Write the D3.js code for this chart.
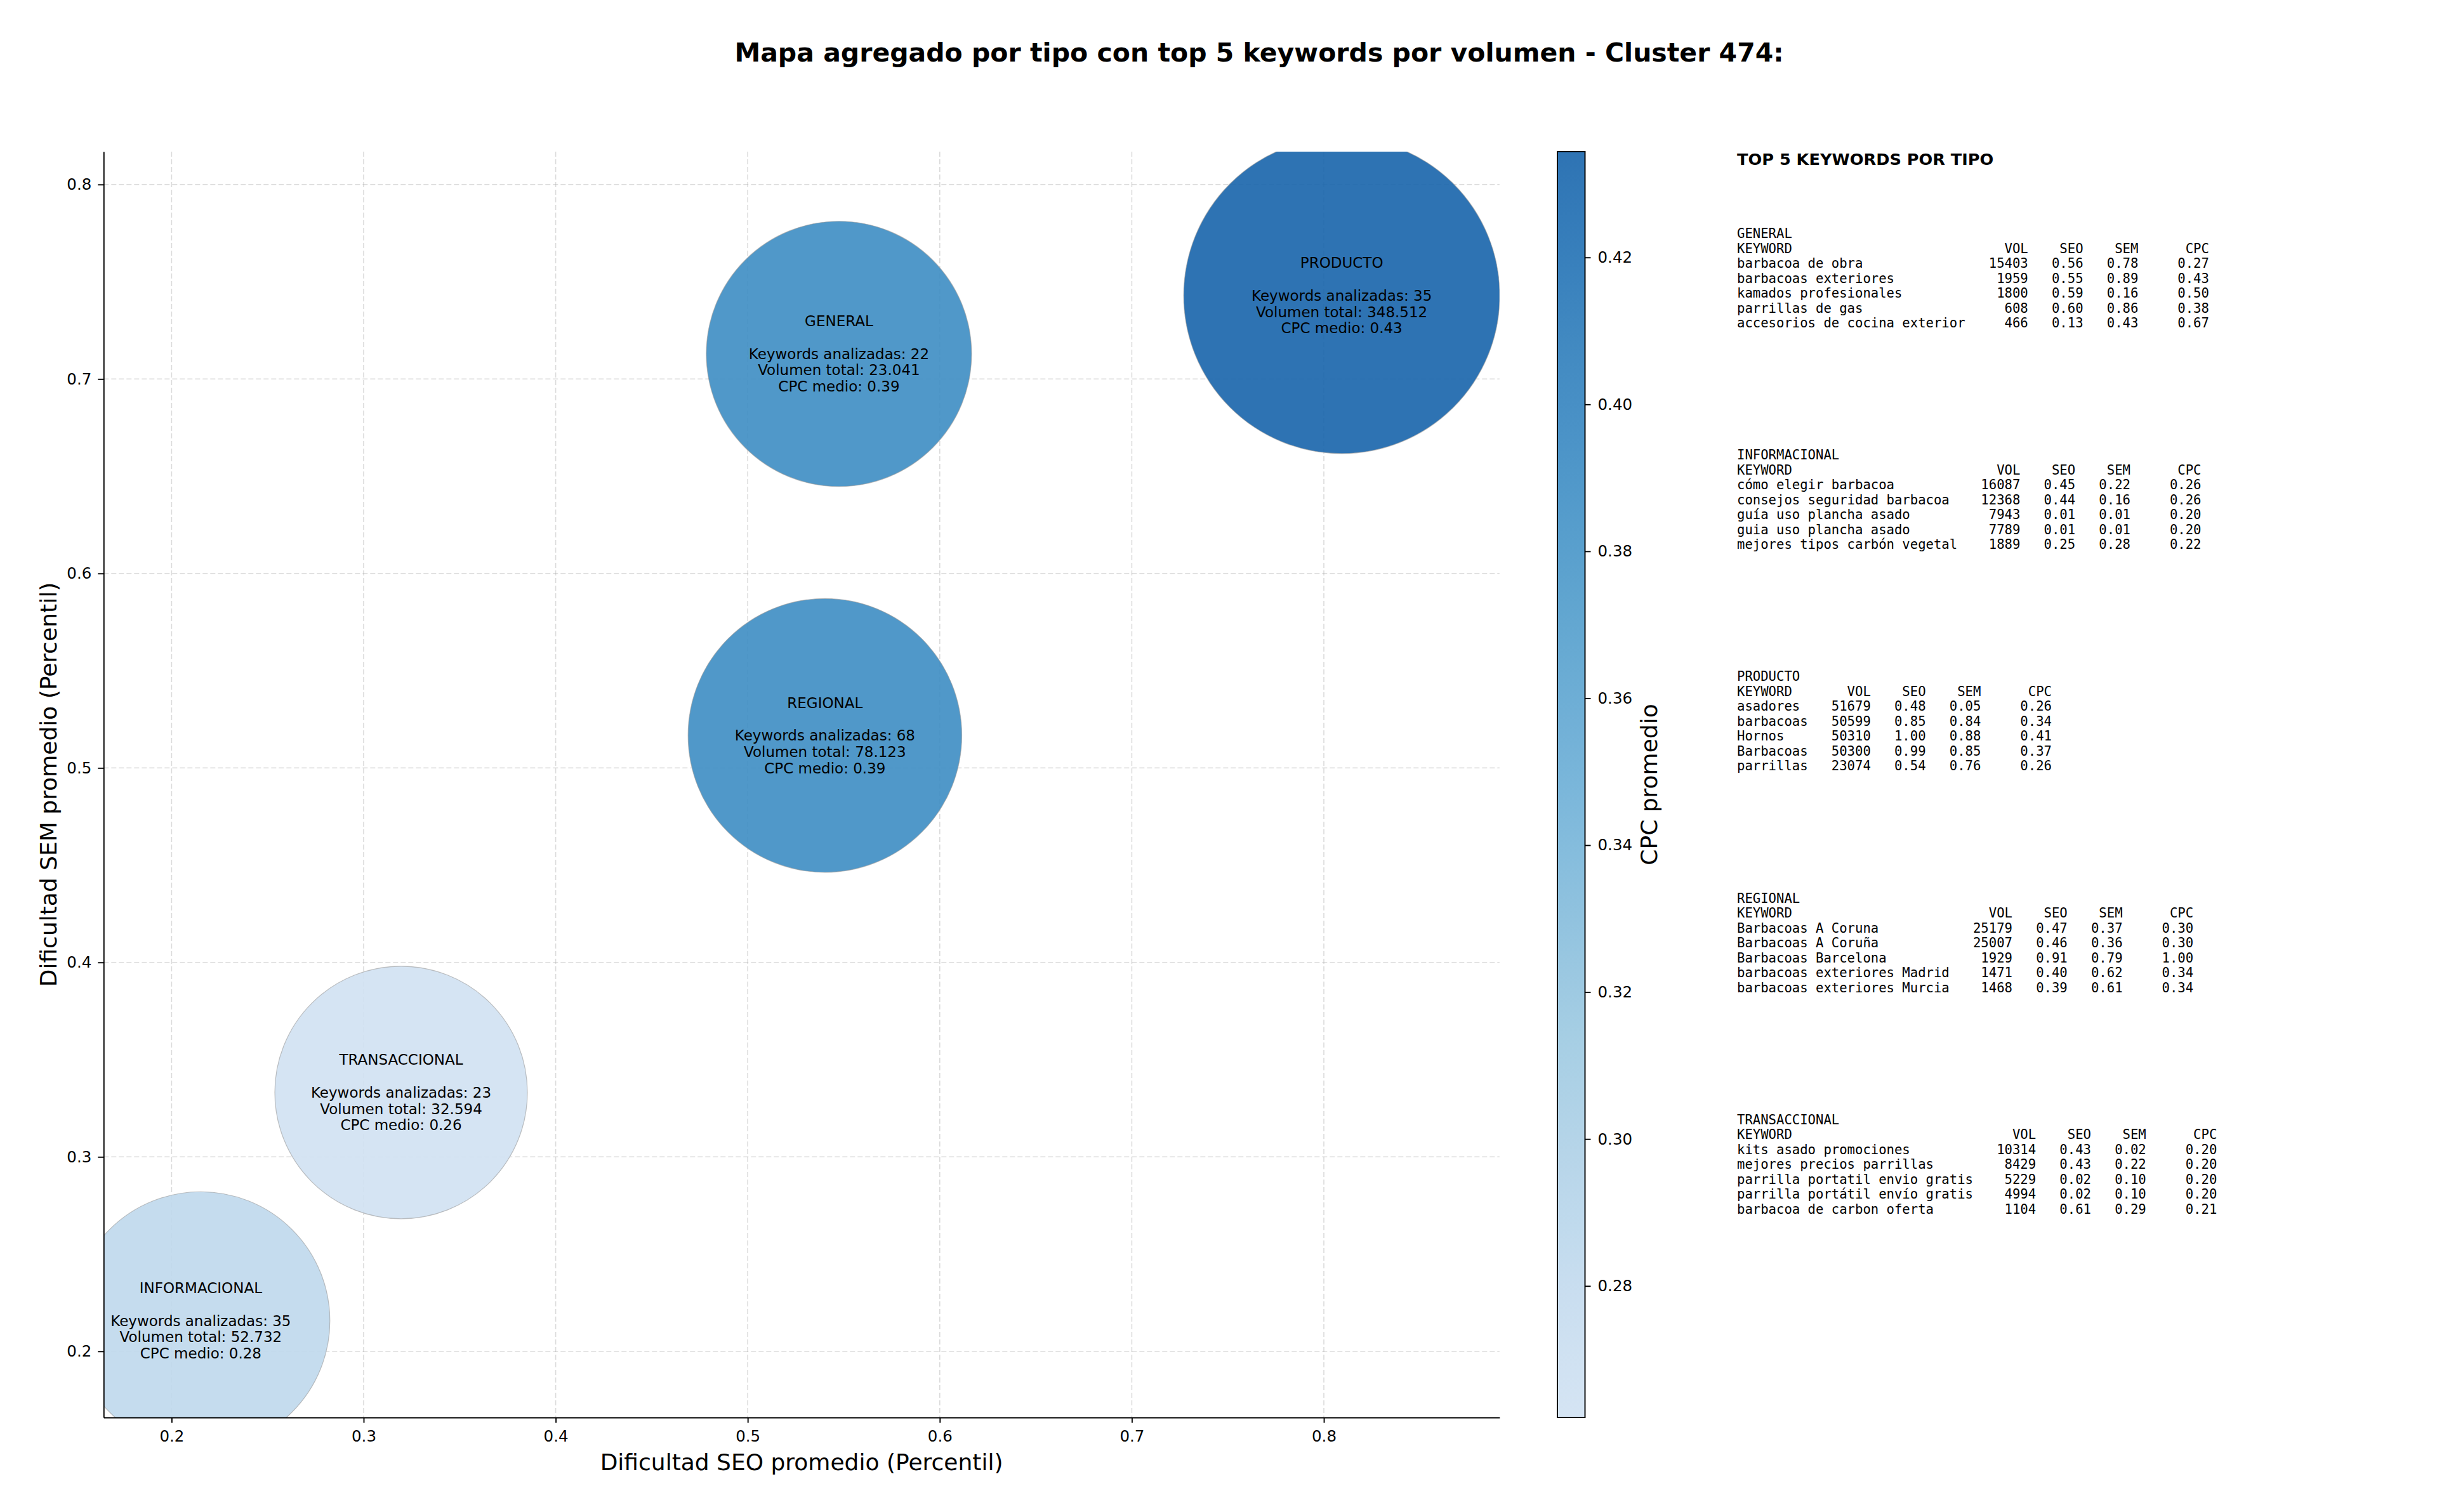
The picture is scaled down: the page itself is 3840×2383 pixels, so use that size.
<!DOCTYPE html>
<html>
<head>
<meta charset="utf-8">
<script src="https://cdn.jsdelivr.net/npm/d3@7"></script>
<style>
  html, body { margin: 0; padding: 0; background: #ffffff; }
  svg { display: block; }
</style>
</head>
<body>
<script>
// ---------------- DATA ----------------
const tipos        = ["GENERAL", "INFORMACIONAL", "PRODUCTO", "REGIONAL", "TRANSACCIONAL"];
const seoPromedio  = [0.5475, 0.2152, 0.8093, 0.5402, 0.3195];
const semPromedio  = [0.7129, 0.2157, 0.7429, 0.5167, 0.3331];
const numKeywords  = [22, 35, 35, 68, 23];
const volumenTotal = [23041, 52732, 348512, 78123, 32594];
const cpcMedio     = [0.39, 0.283, 0.4344, 0.39, 0.2621];

const xTicks  = [0.2, 0.3, 0.4, 0.5, 0.6, 0.7, 0.8];
const yTicks  = [0.2, 0.3, 0.4, 0.5, 0.6, 0.7, 0.8];
const cbTicks = [0.28, 0.30, 0.32, 0.34, 0.36, 0.38, 0.40, 0.42];

// top 5 keywords per type: [keyword, volumen, seo, sem, cpc]
const topGeneral = [
  ["barbacoa de obra", 15403, 0.56, 0.78, 0.27],
  ["barbacoas exteriores", 1959, 0.55, 0.89, 0.43],
  ["kamados profesionales", 1800, 0.59, 0.16, 0.50],
  ["parrillas de gas", 608, 0.60, 0.86, 0.38],
  ["accesorios de cocina exterior", 466, 0.13, 0.43, 0.67]
];
const topInformacional = [
  ["cómo elegir barbacoa", 16087, 0.45, 0.22, 0.26],
  ["consejos seguridad barbacoa", 12368, 0.44, 0.16, 0.26],
  ["guía uso plancha asado", 7943, 0.01, 0.01, 0.20],
  ["guia uso plancha asado", 7789, 0.01, 0.01, 0.20],
  ["mejores tipos carbón vegetal", 1889, 0.25, 0.28, 0.22]
];
const topProducto = [
  ["asadores", 51679, 0.48, 0.05, 0.26],
  ["barbacoas", 50599, 0.85, 0.84, 0.34],
  ["Hornos", 50310, 1.00, 0.88, 0.41],
  ["Barbacoas", 50300, 0.99, 0.85, 0.37],
  ["parrillas", 23074, 0.54, 0.76, 0.26]
];
const topRegional = [
  ["Barbacoas A Coruna", 25179, 0.47, 0.37, 0.30],
  ["Barbacoas A Coruña", 25007, 0.46, 0.36, 0.30],
  ["Barbacoas Barcelona", 1929, 0.91, 0.79, 1.00],
  ["barbacoas exteriores Madrid", 1471, 0.40, 0.62, 0.34],
  ["barbacoas exteriores Murcia", 1468, 0.39, 0.61, 0.34]
];
const topTransaccional = [
  ["kits asado promociones", 10314, 0.43, 0.02, 0.20],
  ["mejores precios parrillas", 8429, 0.43, 0.22, 0.20],
  ["parrilla portatil envio gratis", 5229, 0.02, 0.10, 0.20],
  ["parrilla portátil envío gratis", 4994, 0.02, 0.10, 0.20],
  ["barbacoa de carbon oferta", 1104, 0.61, 0.29, 0.21]
];
const topPorTipo = [topGeneral, topInformacional, topProducto, topRegional, topTransaccional];

// ---------------- LAYOUT ----------------
const W = 3840, H = 2383;
const P = { l: 163.3, r: 2362.8, t: 239, b: 2234 };
const CB = { l: 2454, r: 2497.5, t: 239, b: 2234 };
const SANS = "'DejaVu Sans', 'Liberation Sans', sans-serif";
const MONO = "'DejaVu Sans Mono', 'Liberation Mono', monospace";

const svg = d3.select("body").append("svg")
  .attr("width", W).attr("height", H)
  .attr("viewBox", `0 0 ${W} ${H}`);
svg.append("rect").attr("width", W).attr("height", H).attr("fill", "#ffffff");

const x = d3.scaleLinear().domain([0.16461, 0.89147]).range([P.l, P.r]);
const y = d3.scaleLinear().domain([0.1660, 0.8169]).range([P.b, P.t]);

// colour map: matplotlib "Blues" restricted to [0.2, 0.8]
const bluesStops = ["#f7fbff","#deebf7","#c6dbef","#9ecae1","#6baed6","#4292c6","#2171b5","#08519c","#08306b"];
const blues = d3.scaleLinear().domain(d3.range(9).map(i => i / 8)).range(bluesStops).interpolate(d3.interpolateRgb);
const cpcMin = d3.min(cpcMedio), cpcMax = d3.max(cpcMedio);
const cpcNorm = d3.scaleLinear().domain([cpcMin, cpcMax]).range([0.2, 0.8]).clamp(true);
const colorOf = v => blues(cpcNorm(v));

// bubble area: volume term + CPC term
const areaVol = d3.scaleLinear().domain([0, d3.max(volumenTotal)]).range([0, 17917]);
const areaCpc = d3.scaleLinear().domain([cpcMin, cpcMax]).range([37925, 44084]);
const radiusOf = (vol, cpc) => Math.sqrt(areaVol(vol) + areaCpc(cpc));

const data = tipos.map((t, i) => ({
  tipo: t, seo: seoPromedio[i], sem: semPromedio[i], n: numKeywords[i],
  vol: volumenTotal[i], cpc: cpcMedio[i]
}));

// clip
svg.append("defs").append("clipPath").attr("id", "plotclip")
  .append("rect").attr("x", P.l).attr("y", P.t).attr("width", P.r - P.l).attr("height", P.b - P.t);

// grid
const grid = svg.append("g");
grid.selectAll("line.gx").data(xTicks).join("line")
  .attr("x1", d => x(d)).attr("x2", d => x(d)).attr("y1", P.t).attr("y2", P.b)
  .attr("stroke", "#b0b0b0").attr("stroke-opacity", 0.45).attr("stroke-width", 1.6)
  .attr("stroke-dasharray", "8,4");
grid.selectAll("line.gy").data(yTicks).join("line")
  .attr("y1", d => y(d)).attr("y2", d => y(d)).attr("x1", P.l).attr("x2", P.r)
  .attr("stroke", "#b0b0b0").attr("stroke-opacity", 0.45).attr("stroke-width", 1.6)
  .attr("stroke-dasharray", "8,4");

// bubbles
svg.append("g").attr("clip-path", "url(#plotclip)")
  .selectAll("circle").data(data).join("circle")
  .attr("cx", d => x(d.seo)).attr("cy", d => y(d.sem))
  .attr("r", d => radiusOf(d.vol, d.cpc))
  .attr("fill", d => colorOf(d.cpc)).attr("fill-opacity", 0.9)
  .attr("stroke", "#999999").attr("stroke-opacity", 0.6).attr("stroke-width", 1.2);

// bubble labels
const fmtVol = v => d3.format(",")(v).replace(/,/g, ".");
const lblG = svg.append("g");
data.forEach(d => {
  const lines = [d.tipo, "", `Keywords analizadas: ${d.n}`, `Volumen total: ${fmtVol(d.vol)}`, `CPC medio: ${d3.format(".2f")(d.cpc)}`];
  lines.forEach((s, j) => {
    if (!s) return;
    lblG.append("text")
      .attr("x", x(d.seo)).attr("y", y(d.sem) + (j - 2) * 25.7)
      .attr("text-anchor", "middle").attr("dominant-baseline", "central")
      .attr("font-family", SANS).attr("font-size", 23).attr("fill", "#000")
      .text(s);
  });
});

// axes
const xAxis = svg.append("g").attr("transform", `translate(0,${P.b})`)
  .call(d3.axisBottom(x).tickValues(xTicks).tickFormat(d3.format(".1f")).tickSize(8.5).tickSizeOuter(0).tickPadding(12.5));
const yAxis = svg.append("g").attr("transform", `translate(${P.l},0)`)
  .call(d3.axisLeft(y).tickValues(yTicks).tickFormat(d3.format(".1f")).tickSize(9).tickSizeOuter(0).tickPadding(10));
[xAxis, yAxis].forEach(a => {
  a.select(".domain").attr("stroke", "#000").attr("stroke-width", 1.9);
  a.selectAll(".tick line").attr("stroke", "#000").attr("stroke-width", 1.9);
  a.selectAll(".tick text").attr("font-family", SANS).attr("font-size", 24.5).attr("fill", "#000");
});

// axis labels
svg.append("text").attr("x", (P.l + P.r) / 2).attr("y", 2304.5)
  .attr("text-anchor", "middle").attr("dominant-baseline", "central")
  .attr("font-family", SANS).attr("font-size", 36).attr("fill", "#000")
  .text("Dificultad SEO promedio (Percentil)");
svg.append("text").attr("transform", `translate(76,${(P.t + P.b) / 2}) rotate(-90)`)
  .attr("text-anchor", "middle").attr("dominant-baseline", "central")
  .attr("font-family", SANS).attr("font-size", 36).attr("fill", "#000")
  .text("Dificultad SEM promedio (Percentil)");

// title
svg.append("text").attr("x", 1984).attr("y", 83)
  .attr("text-anchor", "middle").attr("dominant-baseline", "central")
  .attr("font-family", SANS).attr("font-weight", "bold").attr("font-size", 41).attr("fill", "#000")
  .text("Mapa agregado por tipo con top 5 keywords por volumen - Cluster 474:");

// colorbar
const cbScale = d3.scaleLinear().domain([cpcMin, cpcMax]).range([CB.b, CB.t]);
const grad = svg.select("defs").append("linearGradient").attr("id", "cbgrad")
  .attr("x1", 0).attr("y1", 1).attr("x2", 0).attr("y2", 0);
d3.range(0, 1.0001, 0.05).forEach(o => {
  grad.append("stop").attr("offset", o)
    .attr("stop-color", colorOf(cpcMin + o * (cpcMax - cpcMin))).attr("stop-opacity", 0.9);
});
svg.append("rect").attr("x", CB.l).attr("y", CB.t).attr("width", CB.r - CB.l).attr("height", CB.b - CB.t)
  .attr("fill", "url(#cbgrad)").attr("stroke", "#000").attr("stroke-width", 1.9);
const cbAxis = svg.append("g").attr("transform", `translate(${CB.r},0)`)
  .call(d3.axisRight(cbScale).tickValues(cbTicks).tickFormat(d3.format(".2f")).tickSize(9).tickSizeOuter(0).tickPadding(11));
cbAxis.select(".domain").remove();
cbAxis.selectAll(".tick line").attr("stroke", "#000").attr("stroke-width", 1.9);
cbAxis.selectAll(".tick text").attr("font-family", SANS).attr("font-size", 24.5).attr("fill", "#000");
svg.append("text").attr("transform", `translate(2598,${(CB.t + CB.b) / 2}) rotate(-90)`)
  .attr("text-anchor", "middle").attr("dominant-baseline", "central")
  .attr("font-family", SANS).attr("font-size", 36).attr("fill", "#000")
  .text("CPC promedio");

// keyword tables
const TX = 2737;
svg.append("text").attr("x", TX).attr("y", 251)
  .attr("dominant-baseline", "central")
  .attr("font-family", SANS).attr("font-weight", "bold").attr("font-size", 25.6).attr("fill", "#000")
  .text("TOP 5 KEYWORDS POR TIPO");

const f2 = d3.format(".2f");
topPorTipo.forEach((rows, i) => {
  const w = d3.max(rows, r => r[0].length);
  const lines = [tipos[i],
    "KEYWORD".padEnd(w) + "VOL".padStart(8) + "SEO".padStart(7) + "SEM".padStart(7) + "CPC".padStart(9)];
  rows.forEach(r => {
    lines.push(r[0].padEnd(w) + String(r[1]).padStart(8) + f2(r[2]).padStart(7) + f2(r[3]).padStart(7) + f2(r[4]).padStart(9));
  });
  const y0 = 368 + i * 349.2;
  lines.forEach((s, j) => {
    svg.append("text").attr("x", TX).attr("y", y0 + j * 23.5)
      .attr("dominant-baseline", "central")
      .attr("font-family", MONO).attr("font-size", 20.6).attr("fill", "#000")
      .style("white-space", "pre").attr("xml:space", "preserve")
      .text(s);
  });
});
</script>
</body>
</html>
